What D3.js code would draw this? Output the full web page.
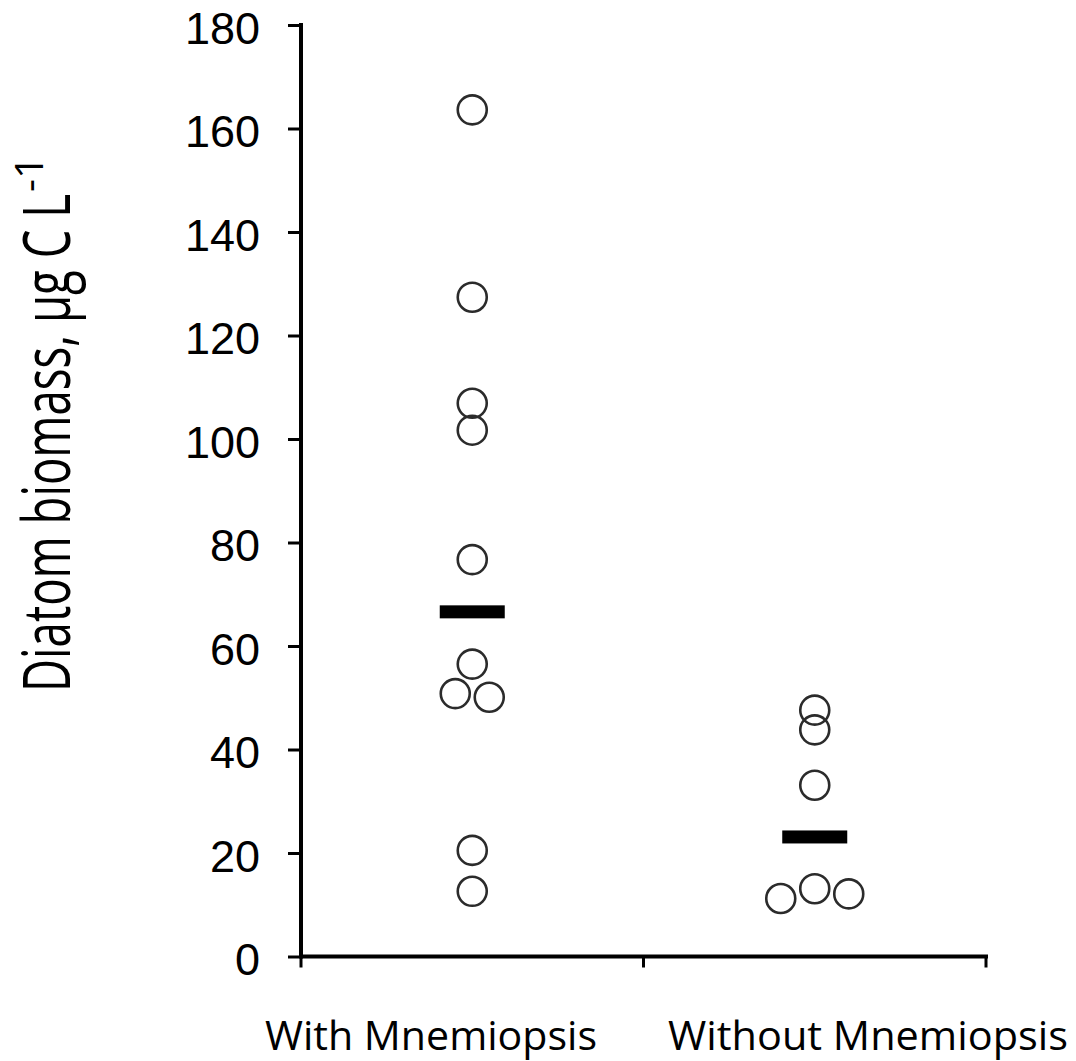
<!doctype html>
<html>
<head>
	<meta charset="utf-8">
	<title>Diatom biomass</title>
	<script src="https://cdn.jsdelivr.net/npm/d3@7"></script>
	<style>
		body { margin: 0; background: #fff; }
	</style>
</head>
<body>
	<script>
		// groups on the x axis
		var categories = ['With Mnemiopsis', 'Without Mnemiopsis'];

		// diatom biomass per replicate (ug C / L)
		var withValues = [163.6, 127.4, 106.9, 101.7, 76.7, 56.5, 50.8, 50.1, 20.5, 12.6];
		var withSlots = [0, 0, 0, 0, 0, 0, -0.5, 0.5, 0, 0]; // side-by-side spread of overlapping dots

		var withoutValues = [47.6, 43.8, 33.1, 11.2, 13.1, 12.1];
		var withoutSlots = [0, 0, 0, -1, 0, 1];

		var yTicks = [0, 20, 40, 60, 80, 100, 120, 140, 160, 180];

		var groups = [
			{ name: categories[0], values: withValues, slots: withSlots },
			{ name: categories[1], values: withoutValues, slots: withoutSlots }
		];

		var width = 1076, height = 1061;

		var svg = d3.select('body').append('svg')
			.attr('width', width)
			.attr('height', height);

		var x = d3.scaleBand()
			.domain(categories)
			.range([301, 986])
			.padding(0);

		var y = d3.scaleLinear()
			.domain([0, 180])
			.range([956.5, 25]);

		var slotStep = 34;

		// y axis
		var yAxis = svg.append('g')
			.attr('transform', 'translate(301,0)')
			.call(d3.axisLeft(y).tickValues(yTicks).tickSize(13).tickPadding(28));
		yAxis.select('.domain').remove();
		yAxis.selectAll('.tick line').attr('stroke', '#000').attr('stroke-width', 3);
		yAxis.selectAll('.tick text')
			.attr('font-family', '"Liberation Sans", Arial, sans-serif')
			.attr('font-size', 45)
			.attr('fill', '#000')
			.attr('dy', '0.4em');
		svg.append('line')
			.attr('x1', 301).attr('x2', 301)
			.attr('y1', y(180) - 2).attr('y2', y(0) + 2)
			.attr('stroke', '#000').attr('stroke-width', 4);

		// x axis: ticks at band edges
		var xEdges = [x.range()[0]].concat(categories.map(function(c) { return x(c) + x.bandwidth(); }));
		svg.append('line')
			.attr('x1', 301).attr('x2', 988)
			.attr('y1', y(0)).attr('y2', y(0))
			.attr('stroke', '#000').attr('stroke-width', 4);
		svg.selectAll('.xtick')
			.data(xEdges)
			.enter().append('line')
			.attr('class', 'xtick')
			.attr('x1', function(d) { return d; })
			.attr('x2', function(d) { return d; })
			.attr('y1', y(0))
			.attr('y2', y(0) + 11)
			.attr('stroke', '#000').attr('stroke-width', 3);

		// category labels
		var labelPos = [{ x: 265, w: 332 }, { x: 668, w: 400 }];
		svg.selectAll('.cat')
			.data(categories)
			.enter().append('text')
			.attr('class', 'cat')
			.attr('x', function(d, i) { return labelPos[i].x; })
			.attr('y', 1050)
			.attr('font-family', '"Open Sans", "Noto Sans", sans-serif')
			.attr('font-size', 41)
			.attr('textLength', function(d, i) { return labelPos[i].w; })
			.attr('lengthAdjust', 'spacingAndGlyphs')
			.attr('fill', '#000')
			.text(function(d) { return d; });

		// y title, squeezed along its length like the original
		var titleG = svg.append('g')
			.attr('transform', 'translate(70,692) rotate(-90) scale(1,1.14)');
		titleG.append('text')
			.attr('font-family', '"Open Sans", "Noto Sans", sans-serif')
			.attr('font-size', 58)
			.attr('textLength', 498)
			.attr('lengthAdjust', 'spacingAndGlyphs')
			.attr('fill', '#000')
			.text('Diatom biomass, \u00b5g C L');
		titleG.append('text')
			.attr('x', 500)
			.attr('y', -24)
			.attr('font-family', '"Open Sans", "Noto Sans", sans-serif')
			.attr('font-size', 34)
			.attr('textLength', 36)
			.attr('lengthAdjust', 'spacingAndGlyphs')
			.attr('fill', '#000')
			.text('-1');

		// replicate dots
		groups.forEach(function(g) {
			var cx = x(g.name) + x.bandwidth() / 2;
			svg.append('g').selectAll('circle')
				.data(g.values)
				.enter().append('circle')
				.attr('cx', function(d, i) { return cx + g.slots[i] * slotStep; })
				.attr('cy', function(d) { return y(d); })
				.attr('r', 14.5)
				.attr('fill', 'none')
				.attr('stroke', '#2b2b2b')
				.attr('stroke-width', 2.6);

			// median bar
			var med = d3.median(g.values);
			svg.append('rect')
				.attr('x', cx - 32.5)
				.attr('y', y(med) - 6.5)
				.attr('width', 65)
				.attr('height', 13)
				.attr('fill', '#000');
		});
	</script>
</body>
</html>
